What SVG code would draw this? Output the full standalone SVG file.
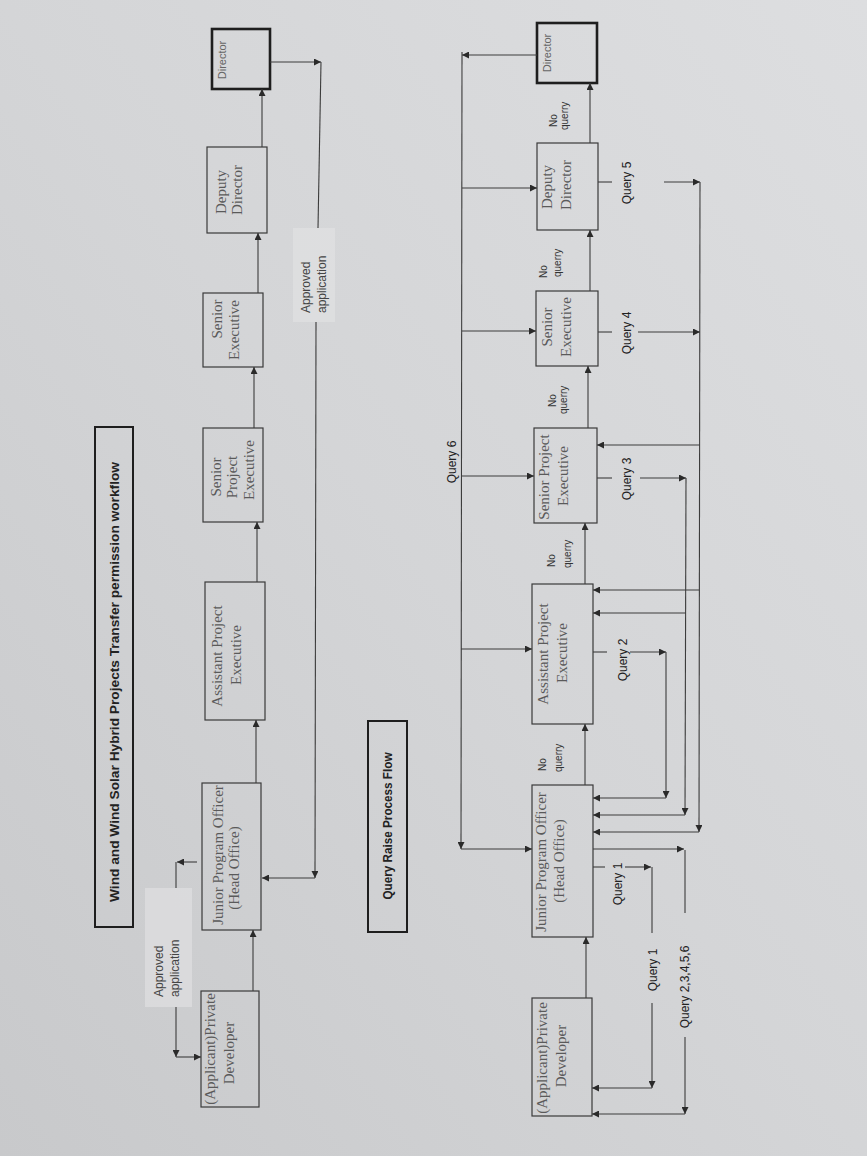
<svg xmlns="http://www.w3.org/2000/svg" width="867" height="1156" viewBox="0 0 867 1156">
  <defs>
    <linearGradient id="paper" x1="1" y1="0" x2="0" y2="1">
      <stop offset="0" stop-color="#dddee0"/>
      <stop offset="0.5" stop-color="#d4d5d7"/>
      <stop offset="1" stop-color="#c8c9cb"/>
    </linearGradient>
    <marker id="arr" viewBox="0 0 8 8" refX="8" refY="4" markerWidth="7" markerHeight="7" markerUnits="userSpaceOnUse" orient="auto">
      <path d="M0,0 L8,4 L0,8 Z" fill="#2a2a2a"/>
    </marker>
    <style>
      .box { fill: none; stroke: #3a3a3a; stroke-width: 1.2; }
      .boxb { fill: none; stroke: #1e1e1e; stroke-width: 2.6; }
      .frame { fill: none; stroke: #1e1e1e; stroke-width: 2; }
      .tag { fill: #e2e3e4; fill-opacity: 0.6; stroke: none; }
      .ln { fill: none; stroke: #3c3c3c; stroke-width: 1.1; }
      .ar { fill: none; stroke: #3c3c3c; stroke-width: 1.1; marker-end: url(#arr); }
      .lbl { font-family: "Liberation Serif", "Times New Roman", serif; font-size: 15px; fill: #5a5a5a; }
      .dir { font-family: "Liberation Sans", Arial, sans-serif; font-size: 11px; fill: #666; }
      .q { font-family: "Liberation Sans", Arial, sans-serif; font-size: 12px; fill: #222; }
      .nq { font-family: "Liberation Sans", Arial, sans-serif; font-size: 10px; fill: #333; }
      .ap { font-family: "Liberation Sans", Arial, sans-serif; font-size: 12px; fill: #444; }
      .ttl { font-family: "Liberation Sans", Arial, sans-serif; font-size: 13.5px; font-weight: bold; fill: #222; }
    </style>
  </defs>

  <!-- paper -->
  <rect x="0" y="0" width="867" height="1156" fill="url(#paper)"/>

  <!-- ===== Transfer permission workflow ===== -->
  <g id="title-workflow">
    <rect class="frame" x="95" y="427" width="38" height="500"/>
    <text class="ttl" transform="translate(114,682) rotate(-90)" text-anchor="middle" dy="0.35em" textLength="440" lengthAdjust="spacingAndGlyphs">Wind and Wind Solar Hybrid Projects Transfer permission workflow</text>
  </g>

  <g id="wf-developer">
    <rect class="box" x="201" y="991" width="58" height="116"/>
    <text class="lbl" transform="translate(210,1049) rotate(-90)" text-anchor="middle" dy="0.35em">(Applicant)Private</text>
    <text class="lbl" transform="translate(229,1053) rotate(-90)" text-anchor="middle" dy="0.35em">Developer</text>
  </g>
  <g id="wf-jpo">
    <rect class="box" x="202" y="783" width="59" height="147"/>
    <text class="lbl" transform="translate(218,855) rotate(-90)" text-anchor="middle" dy="0.35em">Junior Program Officer</text>
    <text class="lbl" transform="translate(234,868) rotate(-90)" text-anchor="middle" dy="0.35em">(Head Office)</text>
  </g>
  <g id="wf-ape">
    <rect class="box" x="205" y="582" width="60" height="138"/>
    <text class="lbl" transform="translate(217,656) rotate(-90)" text-anchor="middle" dy="0.35em">Assistant Project</text>
    <text class="lbl" transform="translate(236,655) rotate(-90)" text-anchor="middle" dy="0.35em">Executive</text>
  </g>
  <g id="wf-spe">
    <rect class="box" x="203" y="428" width="60" height="94"/>
    <text class="lbl" transform="translate(216,477) rotate(-90)" text-anchor="middle" dy="0.35em">Senior</text>
    <text class="lbl" transform="translate(232,477) rotate(-90)" text-anchor="middle" dy="0.35em">Project</text>
    <text class="lbl" transform="translate(249,470) rotate(-90)" text-anchor="middle" dy="0.35em">Executive</text>
  </g>
  <g id="wf-se">
    <rect class="box" x="203" y="293" width="60" height="74"/>
    <text class="lbl" transform="translate(217,319) rotate(-90)" text-anchor="middle" dy="0.35em">Senior</text>
    <text class="lbl" transform="translate(234,330) rotate(-90)" text-anchor="middle" dy="0.35em">Executive</text>
  </g>
  <g id="wf-dd">
    <rect class="box" x="207" y="147" width="60" height="86"/>
    <text class="lbl" transform="translate(221,192) rotate(-90)" text-anchor="middle" dy="0.35em">Deputy</text>
    <text class="lbl" transform="translate(237,190) rotate(-90)" text-anchor="middle" dy="0.35em">Director</text>
  </g>
  <g id="wf-director">
    <rect class="boxb" x="212" y="29" width="58" height="60"/>
    <text class="dir" transform="translate(222,60) rotate(-90)" text-anchor="middle" dy="0.35em">Director</text>
  </g>

  <g id="wf-approved-top">
    <rect class="tag" x="145" y="888" width="47" height="119"/>
    <text class="ap" transform="translate(159,997) rotate(-90)" text-anchor="start" dy="0.35em">Approved</text>
    <text class="ap" transform="translate(175,997) rotate(-90)" text-anchor="start" dy="0.35em">application</text>
  </g>
  <g id="wf-approved-right">
    <rect class="tag" x="293" y="228" width="42" height="94"/>
    <text class="ap" transform="translate(306,313) rotate(-90)" text-anchor="start" dy="0.35em">Approved</text>
    <text class="ap" transform="translate(322,313) rotate(-90)" text-anchor="start" dy="0.35em">application</text>
  </g>

  <!-- ===== Query Raise Process Flow ===== -->
  <g id="title-query">
    <rect class="frame" x="368" y="721" width="39" height="211"/>
    <text class="ttl" transform="translate(387,826) rotate(-90)" text-anchor="middle" dy="0.35em" textLength="147" lengthAdjust="spacingAndGlyphs">Query Raise Process Flow</text>
  </g>

  <g id="q-developer">
    <rect class="box" x="532" y="998" width="60" height="118"/>
    <text class="lbl" transform="translate(542,1058) rotate(-90)" text-anchor="middle" dy="0.35em">(Applicant)Private</text>
    <text class="lbl" transform="translate(561,1056) rotate(-90)" text-anchor="middle" dy="0.35em">Developer</text>
  </g>
  <g id="q-jpo">
    <rect class="box" x="532" y="785" width="61" height="152"/>
    <text class="lbl" transform="translate(541,862) rotate(-90)" text-anchor="middle" dy="0.35em">Junior Program Officer</text>
    <text class="lbl" transform="translate(559,861) rotate(-90)" text-anchor="middle" dy="0.35em">(Head Office)</text>
  </g>
  <g id="q-ape">
    <rect class="box" x="532" y="584" width="61" height="140"/>
    <text class="lbl" transform="translate(543,654) rotate(-90)" text-anchor="middle" dy="0.35em">Assistant Project</text>
    <text class="lbl" transform="translate(562,653) rotate(-90)" text-anchor="middle" dy="0.35em">Executive</text>
  </g>
  <g id="q-spe">
    <rect class="box" x="534" y="428" width="63" height="95"/>
    <text class="lbl" transform="translate(544,477) rotate(-90)" text-anchor="middle" dy="0.35em">Senior Project</text>
    <text class="lbl" transform="translate(563,476) rotate(-90)" text-anchor="middle" dy="0.35em">Executive</text>
  </g>
  <g id="q-se">
    <rect class="box" x="536" y="291" width="62" height="75"/>
    <text class="lbl" transform="translate(547,327) rotate(-90)" text-anchor="middle" dy="0.35em">Senior</text>
    <text class="lbl" transform="translate(566,327) rotate(-90)" text-anchor="middle" dy="0.35em">Executive</text>
  </g>
  <g id="q-dd">
    <rect class="box" x="537" y="143" width="61" height="87"/>
    <text class="lbl" transform="translate(547,187) rotate(-90)" text-anchor="middle" dy="0.35em">Deputy</text>
    <text class="lbl" transform="translate(566,185) rotate(-90)" text-anchor="middle" dy="0.35em">Director</text>
  </g>
  <g id="q-director">
    <rect class="boxb" x="537" y="23" width="60" height="60"/>
    <text class="dir" transform="translate(547,53) rotate(-90)" text-anchor="middle" dy="0.35em">Director</text>
  </g>

  <!-- "No querry" notes on the forward links -->
  <g id="q-notes">
    <text class="nq" transform="translate(542,771) rotate(-90)" text-anchor="start" dy="0.35em">No</text>
    <text class="nq" transform="translate(558,772) rotate(-90)" text-anchor="start" dy="0.35em">querry</text>
    <text class="nq" transform="translate(551,567) rotate(-90)" text-anchor="start" dy="0.35em">No</text>
    <text class="nq" transform="translate(567,568) rotate(-90)" text-anchor="start" dy="0.35em">querry</text>
    <text class="nq" transform="translate(552,407) rotate(-90)" text-anchor="start" dy="0.35em">No</text>
    <text class="nq" transform="translate(563,414) rotate(-90)" text-anchor="start" dy="0.35em">querry</text>
    <text class="nq" transform="translate(543,278) rotate(-90)" text-anchor="start" dy="0.35em">No</text>
    <text class="nq" transform="translate(557,277) rotate(-90)" text-anchor="start" dy="0.35em">querry</text>
    <text class="nq" transform="translate(553,127) rotate(-90)" text-anchor="start" dy="0.35em">No</text>
    <text class="nq" transform="translate(564,130) rotate(-90)" text-anchor="start" dy="0.35em">querry</text>
  </g>

  <!-- query labels -->
  <g id="q-labels">
    <text class="q" transform="translate(452,462) rotate(-90)" text-anchor="middle" dy="0.35em">Query 6</text>
    <text class="q" transform="translate(627,183) rotate(-90)" text-anchor="middle" dy="0.35em">Query 5</text>
    <text class="q" transform="translate(627,333) rotate(-90)" text-anchor="middle" dy="0.35em">Query 4</text>
    <text class="q" transform="translate(627,479) rotate(-90)" text-anchor="middle" dy="0.35em">Query 3</text>
    <text class="q" transform="translate(623,660) rotate(-90)" text-anchor="middle" dy="0.35em">Query 2</text>
    <text class="q" transform="translate(618,884) rotate(-90)" text-anchor="middle" dy="0.35em">Query 1</text>
    <text class="q" transform="translate(653,970) rotate(-90)" text-anchor="middle" dy="0.35em">Query 1</text>
    <text class="q" transform="translate(685,987) rotate(-90)" text-anchor="middle" dy="0.35em">Query 2,3,4,5,6</text>
  </g>

  <!-- ===== connectors ===== -->
  <g id="connectors">
    <!-- workflow: forward chain -->
    <path class="ar" d="M253,991 V930"/>
    <path class="ar" d="M256,783 V720"/>
    <path class="ar" d="M257,582 V522"/>
    <path class="ar" d="M254,428 V367"/>
    <path class="ar" d="M258,293 V233"/>
    <path class="ar" d="M262,147 V89"/>
    <!-- workflow: approval back to the officer -->
    <path class="ar" d="M270,62 H321"/>
    <path class="ln" d="M321,62 L318,228"/>
    <path class="ar" d="M316,322 L315,878"/>
    <path class="ar" d="M315,878 H262"/>
    <!-- workflow: approval to the developer -->
    <path class="ar" d="M197,862 H177"/>
    <path class="ln" d="M176,862 V888"/>
    <path class="ar" d="M176,1007 V1057"/>
    <path class="ar" d="M176,1057 H201"/>

    <!-- query flow: forward chain -->
    <path class="ar" d="M586,998 V937"/>
    <path class="ar" d="M585,785 V724"/>
    <path class="ar" d="M585,584 V523"/>
    <path class="ar" d="M588,428 V366"/>
    <path class="ar" d="M590,291 V230"/>
    <path class="ar" d="M590,143 V83"/>

    <!-- Query 6 -->
    <path class="ar" d="M537,55 H462"/>
    <path class="ar" d="M462,52 L461,849"/>
    <path class="ar" d="M461,849 H532"/>
    <path class="ar" d="M462,188 H537"/>
    <path class="ar" d="M462,331 H536"/>
    <path class="ar" d="M461,476 H534"/>
    <path class="ar" d="M461,649 H532"/>

    <!-- Query 5 / Query 4 -->
    <path class="ln" d="M598,182 H612"/>
    <path class="ar" d="M664,182 H700"/>
    <path class="ln" d="M598,332 H612"/>
    <path class="ar" d="M638,332 H700"/>
    <path class="ar" d="M700,182 L699,832"/>
    <path class="ar" d="M699,832 H593"/>
    <path class="ar" d="M700,445 H597"/>
    <path class="ar" d="M699,590 H593"/>

    <!-- Query 3 -->
    <path class="ln" d="M597,478 H612"/>
    <path class="ar" d="M640,478 H686"/>
    <path class="ar" d="M686,478 L685,815"/>
    <path class="ar" d="M685,815 H593"/>
    <path class="ar" d="M686,613 H593"/>

    <!-- Query 2 -->
    <path class="ln" d="M593,652 H607"/>
    <path class="ar" d="M630,652 H666"/>
    <path class="ar" d="M666,652 V798"/>
    <path class="ar" d="M666,798 H593"/>

    <!-- Query 1 -->
    <path class="ln" d="M593,867 H605"/>
    <path class="ar" d="M625,867 H651"/>
    <path class="ln" d="M652,867 V933"/>
    <path class="ar" d="M652,1003 V1088"/>
    <path class="ar" d="M652,1088 H592"/>

    <!-- Query 2,3,4,5,6 -->
    <path class="ar" d="M593,849 H684"/>
    <path class="ln" d="M685,850 V913"/>
    <path class="ar" d="M685,1037 V1114"/>
    <path class="ar" d="M685,1114 H592"/>
  </g>
</svg>
